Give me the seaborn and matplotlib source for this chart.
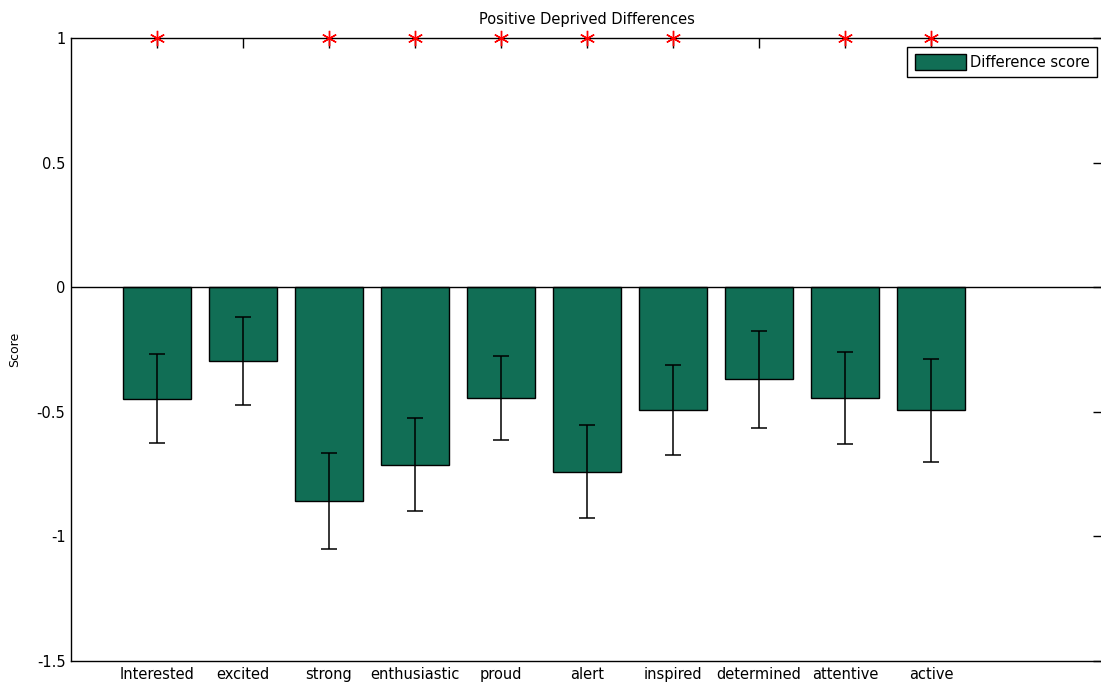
import matplotlib
matplotlib.use("Agg")
import matplotlib.pyplot as plt
import seaborn as sns
import pandas as pd
import numpy as np

categories = ["Interested", "excited", "strong", "enthusiastic", "proud",
              "alert", "inspired", "determined", "attentive", "active"]
scores = [-0.447, -0.296, -0.859, -0.713, -0.445, -0.740, -0.493, -0.370, -0.445, -0.494]
errors = [0.177, 0.177, 0.193, 0.187, 0.170, 0.186, 0.179, 0.196, 0.183, 0.206]
significant = [True, False, True, True, True, True, True, False, True, True]
yticks = [1, 0.5, 0, -0.5, -1, -1.5]

sns.set_style("white")
plt.rcParams['font.family'] = ['DejaVu Sans']
plt.rcParams['text.color'] = 'black'
plt.rcParams['xtick.color'] = 'black'
plt.rcParams['ytick.color'] = 'black'

df = pd.DataFrame({"word": categories, "score": scores})

fig = plt.figure(figsize=(11.01, 6.84), dpi=100)
ax = fig.add_axes([71/1101, 1-661/684, 1032/1101, (661-38)/684])

bar_color = "#116e55"
sns.barplot(data=df, x="word", y="score", order=categories, color=bar_color,
            width=0.8, edgecolor="black", linewidth=1.0, saturation=1,
            errorbar=None, ax=ax, label="Difference score")

pos = np.arange(len(categories))
ax.errorbar(pos, scores, yerr=errors, fmt="none", ecolor="black",
            elinewidth=1.1, capsize=5.8, capthick=1.1, zorder=5)

ax.axhline(0, color="black", linewidth=1.0, zorder=4)

sig_x = [p for p, s in zip(pos, significant) if s]
ax.plot(sig_x, [1] * len(sig_x), linestyle="none", marker=(6, 2, 0),
        markersize=11, markeredgecolor="red", markerfacecolor="red",
        markeredgewidth=1.0, clip_on=False, zorder=6)

ax.set_xlim(-1, 11)
ax.set_ylim(-1.5, 1)
ax.set_yticks(yticks)
ax.set_yticklabels([("%g" % v) for v in yticks])
ax.set_xticks(pos)
ax.set_xticklabels(categories)
ax.tick_params(axis="both", direction="in", length=7.5, width=1, color="black",
               labelsize=10.5, labelcolor="black", top=True, right=True, pad=4)
ax.set_xlabel("")
ax.set_ylabel("Score", fontsize=9, color="black")
ax.yaxis.set_label_coords((21 - 71) / 1032, 0.5)
ax.set_title("Positive Deprived Differences", fontsize=10.5, pad=10, color="black")

for s in ax.spines.values():
    s.set_color("black")
    s.set_linewidth(1.0)
    s.set_visible(True)

leg = ax.legend(loc="upper right", bbox_to_anchor=(1097/1101, 1-47/684),
                bbox_transform=fig.transFigure, borderaxespad=0,
                fancybox=False, edgecolor="black", fontsize=10.5,
                handlelength=3.5, handleheight=1.3, handletextpad=0.3,
                borderpad=0.5, framealpha=1)
leg.get_frame().set_linewidth(1.0)

fig.savefig("out.png", dpi=100)
